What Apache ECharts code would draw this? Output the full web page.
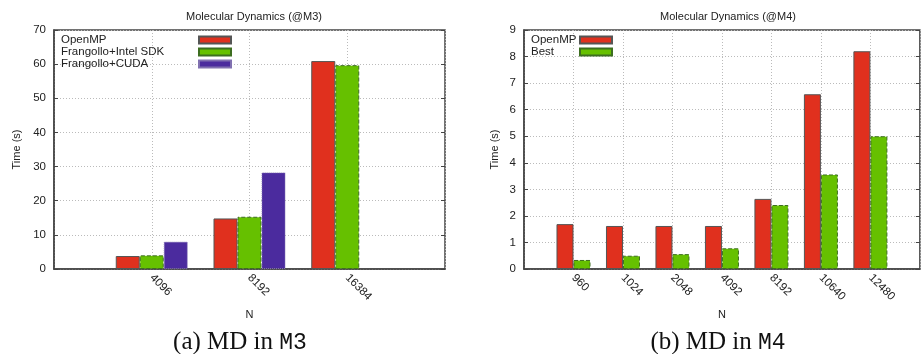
<!DOCTYPE html>
<html><head><meta charset="utf-8">
<script src="https://cdn.jsdelivr.net/npm/echarts@6/dist/echarts.min.js"></script>
<style>html,body{margin:0;padding:0;background:#fff}#c{width:922px;height:354px}</style>
</head><body><div id="c"></div>
<script>
// ---- data ----
const m3Categories = ['4096', '8192', '16384'];
const m3OpenMP = [3.8, 14.8, 60.9];
const m3IntelSDK = [4.0, 15.3, 59.7];
const m3CUDA = [8.0, 28.3, null];
const m3YTicks = [0, 10, 20, 30, 40, 50, 60, 70];

const m4Categories = ['960', '1024', '2048', '4092', '8192', '10640', '12480'];
const m4OpenMP = [1.69, 1.62, 1.62, 1.62, 2.64, 6.58, 8.2];
const m4Best = [0.34, 0.50, 0.56, 0.78, 2.41, 3.56, 5.0];
const m4YTicks = [0, 1, 2, 3, 4, 5, 6, 7, 8, 9];

const FONT = 'Liberation Sans';
const pad = a => [''].concat(a, ['']);
const padV = a => ['-'].concat(a.map(v => v == null ? '-' : v), ['-']);

const RED = '#e0301e', GREEN = '#66c000', PURPLE = '#4b2b9e';

function xAxis(gi, cats) {
  return {
    type: 'category', gridIndex: gi, data: pad(cats), boundaryGap: false,
    name: 'N', nameLocation: 'middle', nameGap: 34,
    nameTextStyle: {fontFamily: FONT, fontSize: 11, color: '#222'},
    axisLine: {lineStyle: {color: '#444', width: 1.5}},
    axisTick: {show: false},
    axisLabel: {rotate: -45, fontFamily: FONT, fontSize: 11.5, color: '#222', margin: 7, interval: 0},
    splitLine: {show: true, lineStyle: {color: '#bbb', type: [1, 2], width: 1}}
  };
}
function yAxis(gi, ticks, gap) {
  return {
    type: 'value', gridIndex: gi, min: ticks[0], max: ticks[ticks.length - 1], interval: ticks[1] - ticks[0],
    name: 'Time (s)', nameLocation: 'middle', nameGap: gap, nameRotate: 90,
    nameTextStyle: {fontFamily: FONT, fontSize: 11, color: '#222'},
    axisLine: {show: true, lineStyle: {color: '#444', width: 1.5}},
    axisTick: {show: true, inside: true, length: 4, lineStyle: {color: '#444'}},
    axisLabel: {fontFamily: FONT, fontSize: 11.5, color: '#222', margin: 8},
    splitLine: {show: true, lineStyle: {color: '#bbb', type: [1, 2], width: 1}}
  };
}
function yMirror(gi, ticks) {
  return {
    type: 'value', gridIndex: gi, position: 'right', min: ticks[0], max: ticks[ticks.length - 1], interval: ticks[1] - ticks[0],
    axisLine: {show: false}, axisLabel: {show: false}, splitLine: {show: false},
    axisTick: {show: true, inside: true, length: 4, lineStyle: {color: '#444'}}
  };
}
function bar(name, xi, yi, data, color, border, btype, w) {
  return {
    type: 'bar', name: name, xAxisIndex: xi, yAxisIndex: yi, data: padV(data),
    barWidth: w, barGap: '0%',
    itemStyle: {color: color, borderColor: border, borderWidth: 1, borderType: btype},
    emphasis: {disabled: true}
  };
}
const capRich = {
  s: {fontFamily: 'Liberation Serif', fontSize: 25, fontWeight: 'normal', color: '#111'},
  m: {fontFamily: 'Liberation Mono', fontSize: 23, fontWeight: 'normal', color: '#111'}
};

const chart = echarts.init(document.getElementById('c'), null, {renderer: 'canvas'});
chart.setOption({
  animation: false,
  backgroundColor: '#fff',
  title: [
    {text: 'Molecular Dynamics (@M3)', left: 249, top: 6, textAlign: 'center',
     textStyle: {fontFamily: FONT, fontSize: 11, fontWeight: 'normal', color: '#222'}},
    {text: 'Molecular Dynamics (@M4)', left: 723, top: 6, textAlign: 'center',
     textStyle: {fontFamily: FONT, fontSize: 11, fontWeight: 'normal', color: '#222'}},
    {text: '{s|(a) MD in }{m|M3}', left: 235, top: 325, textAlign: 'center',
     textStyle: {fontWeight: 'normal', rich: capRich}},
    {text: '{s|(b) MD in }{m|M4}', left: 713, top: 325, textAlign: 'center',
     textStyle: {fontWeight: 'normal', rich: capRich}}
  ],
  legend: [
    {left: 56, top: 29, orient: 'vertical', align: 'right', itemWidth: 32, itemHeight: 7, itemGap: 0, icon: 'rect',
     data: ['OpenMP', 'Frangollo+Intel SDK', 'Frangollo+CUDA'],
     formatter: n => '{t|' + n + '}',
     textStyle: {rich: {t: {width: 133, align: 'left', fontFamily: FONT, fontSize: 11.5, color: '#222', lineHeight: 11}}},
     selectedMode: false},
    {left: 526, top: 29, orient: 'vertical', align: 'right', itemWidth: 32, itemHeight: 7, itemGap: 0, icon: 'rect',
     data: ['OpenMP', 'Best'],
     formatter: n => '{t|' + n + '}',
     textStyle: {rich: {t: {width: 44, align: 'left', fontFamily: FONT, fontSize: 11.5, color: '#222', lineHeight: 11}}},
     selectedMode: false}
  ],
  grid: [
    {left: 54, top: 30, width: 391, height: 239, show: true, borderColor: '#444', borderWidth: 1.5, backgroundColor: 'transparent'},
    {left: 524, top: 30, width: 399, height: 239, show: true, borderColor: '#444', borderWidth: 1.5, backgroundColor: 'transparent'}
  ],
  xAxis: [xAxis(0, m3Categories), xAxis(1, m4Categories)],
  yAxis: [yAxis(0, m3YTicks, 32), yMirror(0, m3YTicks), yAxis(1, m4YTicks, 24), yMirror(1, m4YTicks)],
  series: [
    bar('OpenMP', 0, 0, m3OpenMP, RED, '#555', 'solid', 24),
    bar('Frangollo+Intel SDK', 0, 0, m3IntelSDK, GREEN, '#3d6e20', 'dashed', 24),
    bar('Frangollo+CUDA', 0, 0, m3CUDA, PURPLE, '#8070b0', 'dotted', 24),
    bar('OpenMP', 1, 2, m4OpenMP, RED, '#555', 'solid', 17),
    bar('Best', 1, 2, m4Best, GREEN, '#3d6e20', 'dashed', 17)
  ]
});
</script></body></html>
